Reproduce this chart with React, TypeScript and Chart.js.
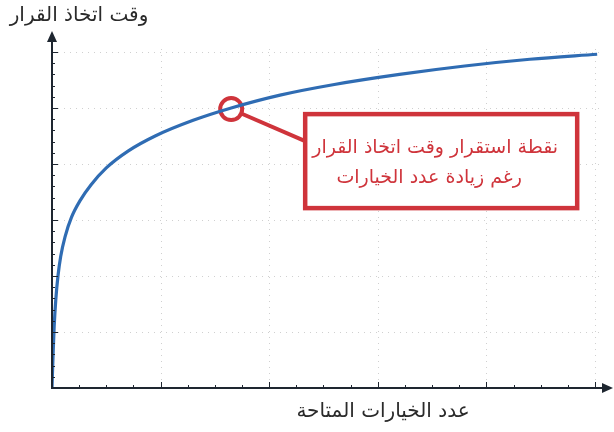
import { useEffect, useRef } from "react";
import { Chart, registerables } from "chart.js";

Chart.register(...registerables);

// ---- data ----
const optionsCount = [0, 0.004, 0.01, 0.02, 0.035, 0.055, 0.08, 0.12, 0.18, 0.26, 0.36, 0.5, 0.7, 0.95, 1.3, 1.65, 2.1, 2.6, 3.2, 3.8, 4.4, 5.02];
const decisionTime = [0, 0.25, 0.6, 1.1, 1.58, 2.0, 2.35, 2.7, 3.05, 3.35, 3.63, 3.93, 4.23, 4.5, 4.78, 5.0, 5.23, 5.42, 5.6, 5.75, 5.87, 5.96];
const xMajorTicks = [0, 1, 2, 3, 4, 5];
const yMajorTicks = [0, 1, 2, 3, 4, 5, 6];
const xMinorStep = 0.25;
const yMinorStep = 0.2;
const stablePointX = 1.65;
const stablePointY = 4.98;
const yAxisTitle = "وقت اتخاذ القرار";
const xAxisTitle = "عدد الخيارات المتاحة";
const noteLines = ["نقطة استقرار وقت اتخاذ القرار", "رغم زيادة عدد الخيارات"];

const X_MAX = 5.166;
const Y_MAX = 6.375;
const RED = "#cf343b";
const AXIS = "#1e2630";
const FONT = '"DejaVu Sans", "Liberation Sans", sans-serif';

const decorPlugin = {
  id: "decor",
  beforeDatasetsDraw(chart: any) {
    const { ctx, chartArea, scales } = chart;
    const xs = scales.x;
    const ys = scales.y;
    ctx.save();
    // dotted grid at majors
    ctx.strokeStyle = "#d0d0d0";
    ctx.lineWidth = 1;
    ctx.setLineDash([1, 5]);
    xMajorTicks.forEach((v) => {
      if (v === 0) return;
      const px = Math.round(xs.getPixelForValue(v)) + 0.5;
      ctx.beginPath();
      ctx.moveTo(px, chartArea.top + 18);
      ctx.lineTo(px, chartArea.bottom);
      ctx.stroke();
    });
    yMajorTicks.forEach((v) => {
      if (v === 0) return;
      const py = Math.round(ys.getPixelForValue(v)) + 0.5;
      ctx.beginPath();
      ctx.moveTo(chartArea.left, py);
      ctx.lineTo(chartArea.right - 10, py);
      ctx.stroke();
    });
    ctx.setLineDash([]);

    // annotation: circle, connector, box
    const cx = xs.getPixelForValue(stablePointX);
    const cy = ys.getPixelForValue(stablePointY);
    const r = 11;
    const boxL = cx + 74;
    const boxT = cy + 5;
    const boxW = 272;
    const boxH = 94;
    const jx = boxL;
    const jy = cy + 32;
    const dx = jx - cx;
    const dy = jy - cy;
    const d = Math.hypot(dx, dy);
    ctx.strokeStyle = RED;
    ctx.lineWidth = 4;
    ctx.beginPath();
    ctx.moveTo(cx + (dx / d) * r, cy + (dy / d) * r);
    ctx.lineTo(jx, jy);
    ctx.stroke();
    ctx.beginPath();
    ctx.arc(cx, cy, r, 0, Math.PI * 2);
    ctx.stroke();
    ctx.fillStyle = "#ffffff";
    ctx.fillRect(boxL, boxT, boxW, boxH);
    ctx.lineWidth = 4.5;
    ctx.strokeRect(boxL, boxT, boxW, boxH);
    ctx.fillStyle = RED;
    ctx.font = `19px ${FONT}`;
    ctx.textAlign = "center";
    ctx.textBaseline = "middle";
    ctx.direction = "rtl";
    ctx.fillText(noteLines[0], boxL + boxW / 2 - 6, boxT + 34);
    ctx.fillText(noteLines[1], boxL + boxW / 2 - 12, boxT + 64);
    ctx.restore();
  },
  afterDatasetsDraw(chart: any) {
    const { ctx, chartArea, scales } = chart;
    const xs = scales.x;
    const ys = scales.y;
    const ox = xs.getPixelForValue(0);
    const oy = ys.getPixelForValue(0);
    ctx.save();
    ctx.strokeStyle = AXIS;
    ctx.fillStyle = AXIS;
    ctx.lineWidth = 2;
    // axes
    ctx.beginPath();
    ctx.moveTo(ox, chartArea.top + 6);
    ctx.lineTo(ox, oy);
    ctx.lineTo(chartArea.right - 6, oy);
    ctx.stroke();
    // ticks
    ctx.lineWidth = 1;
    for (let i = 1; i * xMinorStep < X_MAX - 0.1; i++) {
      const v = i * xMinorStep;
      const major = Math.abs(v - Math.round(v)) < 1e-6;
      const px = Math.round(xs.getPixelForValue(v)) + 0.5;
      ctx.beginPath();
      ctx.moveTo(px, oy);
      ctx.lineTo(px, oy - (major ? 6 : 3));
      ctx.stroke();
    }
    for (let i = 1; i * yMinorStep < Y_MAX - 0.15; i++) {
      const v = i * yMinorStep;
      const major = Math.abs(v - Math.round(v)) < 1e-6;
      const py = Math.round(ys.getPixelForValue(v)) + 0.5;
      ctx.beginPath();
      ctx.moveTo(ox, py);
      ctx.lineTo(ox + (major ? 6 : 3), py);
      ctx.stroke();
    }
    // arrow heads
    ctx.beginPath();
    ctx.moveTo(ox, chartArea.top);
    ctx.lineTo(ox - 5, chartArea.top + 11);
    ctx.lineTo(ox + 5, chartArea.top + 11);
    ctx.closePath();
    ctx.fill();
    ctx.beginPath();
    ctx.moveTo(chartArea.right, oy);
    ctx.lineTo(chartArea.right - 11, oy - 5);
    ctx.lineTo(chartArea.right - 11, oy + 5);
    ctx.closePath();
    ctx.fill();
    // titles
    ctx.fillStyle = "#2a2a2a";
    ctx.font = `20px ${FONT}`;
    ctx.direction = "rtl";
    ctx.textBaseline = "middle";
    ctx.textAlign = "center";
    ctx.fillText(yAxisTitle, 79, 16);
    ctx.fillText(xAxisTitle, 383, 412);
    ctx.restore();
  },
};

export default function App() {
  const ref = useRef<HTMLCanvasElement | null>(null);
  useEffect(() => {
    document.body.style.margin = "0";
    const canvas = ref.current;
    if (!canvas) return;
    const chart = new Chart(canvas, {
      type: "scatter",
      data: {
        datasets: [
          {
            data: optionsCount.map((x, i) => ({ x, y: decisionTime[i] })),
            showLine: true,
            borderColor: "#2f6cb3",
            borderWidth: 3.2,
            pointRadius: 0,
            cubicInterpolationMode: "monotone",
            fill: false,
          } as any,
        ],
      },
      options: {
        responsive: false,
        animation: false,
        devicePixelRatio: 1,
        layout: { padding: { left: 52, right: 1, top: 31, bottom: 44 } },
        plugins: { legend: { display: false }, tooltip: { enabled: false }, title: { display: false } },
        scales: {
          x: { type: "linear", min: 0, max: X_MAX, display: false },
          y: { type: "linear", min: 0, max: Y_MAX, display: false },
        },
      },
      plugins: [decorPlugin],
    });
    return () => chart.destroy();
  }, []);
  return (
    <div style={{ width: 614, height: 432, background: "#fff" }}>
      <canvas ref={ref} width={614} height={432} />
    </div>
  );
}
